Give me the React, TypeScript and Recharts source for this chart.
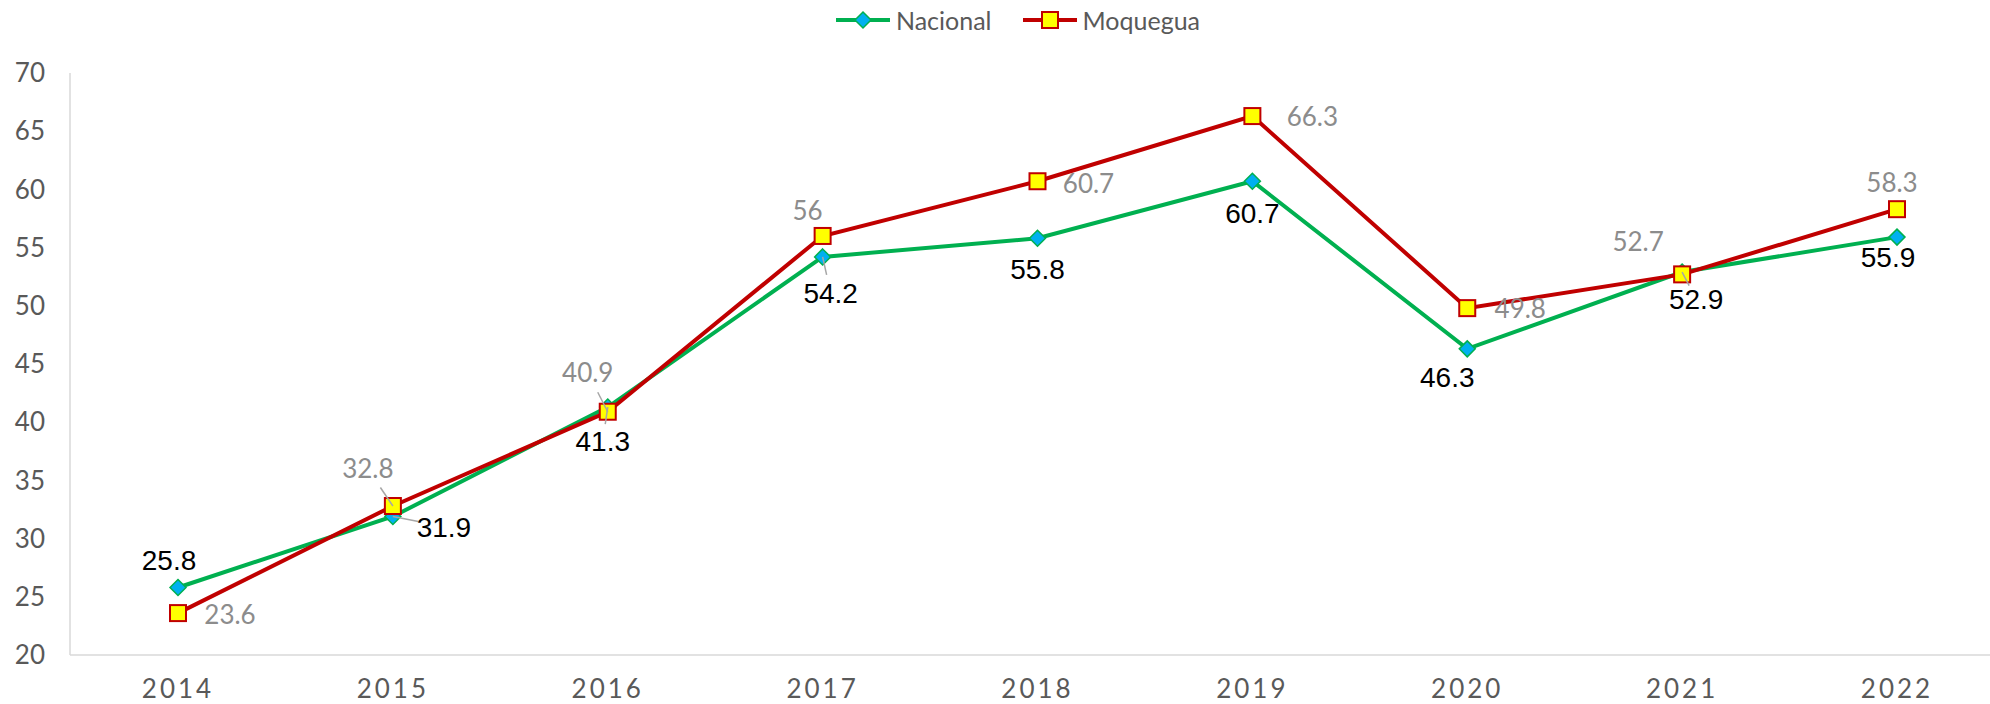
import { LineChart, Line, XAxis, YAxis, Legend, LabelList } from "recharts";

const years = ["2014", "2015", "2016", "2017", "2018", "2019", "2020", "2021", "2022"];
const nacional = [25.8, 31.9, 41.3, 54.2, 55.8, 60.7, 46.3, 52.9, 55.9];
const moquegua = [23.6, 32.8, 40.9, 56, 60.7, 66.3, 49.8, 52.7, 58.3];
const yTicks = [20, 25, 30, 35, 40, 45, 50, 55, 60, 65, 70];

const data = years.map((year, i) => ({
  year,
  nacional: nacional[i],
  moquegua: moquegua[i],
}));

// where each value label sits relative to its point (px), and which ones get a leader line
const nacionalLabelAt = [[-9, -28], [51, 10], [-5, 34], [8, 36], [0, 31], [0, 32], [-20, 28], [14, 27], [-9, 20]];
const moqueguaLabelAt = [[52, 2], [-25, -37], [-20, -39], [-15, -25], [51, 2], [60, 1], [53, 1], [-44, -33], [-5, -27]];
const nacionalLeader = [false, true, true, true, false, false, false, true, false];
const moqueguaLeader = [false, true, true, false, false, false, false, false, false];

const GREEN = "#00b050";
const CYAN = "#00b0f0";
const RED = "#c00000";
const YELLOW = "#ffff00";
const AXIS = "#d9d9d9";
const TEXT = "#595959";

function Diamond({ cx, cy, size = 8 }: { cx: number; cy: number; size?: number }) {
  return (
    <path
      d={`M${cx},${cy - size} L${cx + size},${cy} L${cx},${cy + size} L${cx - size},${cy} Z`}
      fill={CYAN}
      stroke={GREEN}
      strokeWidth={1.5}
    />
  );
}

function Square({ cx, cy, size = 8 }: { cx: number; cy: number; size?: number }) {
  return (
    <rect x={cx - size} y={cy - size} width={size * 2} height={size * 2} fill={YELLOW} stroke={RED} strokeWidth={2} />
  );
}

function makeLabel(offsets: number[][], leaders: boolean[], color: string, font: string, size: number) {
  return (props: any) => {
    const { value, index } = props;
    const x = props.x ?? props.viewBox?.x;
    const y = props.y ?? props.viewBox?.y;
    if (x == null || y == null) return null;
    const [dx, dy] = offsets[index];
    return (
      <g key={`lbl-${index}`}>
        {leaders[index] && (
          <line x1={x} y1={y} x2={x + dx * 0.5} y2={y + dy * 0.5} stroke="#a6a6a6" strokeWidth={1.5} />
        )}
        <text
          x={x + dx}
          y={y + dy}
          dy="0.36em"
          textAnchor="middle"
          fill={color}
          fontSize={size}
          fontFamily={font}
        >
          {value}
        </text>
      </g>
    );
  };
}

function LegendContent() {
  const items = [
    { name: "Nacional", color: GREEN, marker: (cx: number, cy: number) => <Diamond cx={cx} cy={cy} /> },
    { name: "Moquegua", color: RED, marker: (cx: number, cy: number) => <Square cx={cx} cy={cy} /> },
  ];
  return (
    <div
      style={{
        height: 40,
        display: "flex",
        justifyContent: "center",
        alignItems: "center",
        paddingLeft: 32,
        fontFamily: "Lato",
        fontSize: 25,
        color: TEXT,
      }}
    >
      {items.map((it, i) => (
        <div key={it.name} style={{ display: "flex", alignItems: "center", marginLeft: i ? 31 : 0 }}>
          <svg width={54} height={22}>
            <line x1={0} y1={11} x2={54} y2={11} stroke={it.color} strokeWidth={4} />
            {it.marker(27, 11)}
          </svg>
          <span style={{ marginLeft: 6 }}>{it.name}</span>
        </div>
      ))}
    </div>
  );
}

export default function App() {
  return (
    <div style={{ position: "fixed", left: 0, top: 0, width: 1990, height: 704, overflow: "hidden", background: "#fff" }}>
      <LineChart width={2010} height={704} data={data} margin={{ top: 33, right: 6, bottom: 0, left: 0 }}>
        <Legend verticalAlign="top" content={<LegendContent />} wrapperStyle={{ top: 0 }} />
        <XAxis
          dataKey="year"
          height={49}
          padding={{ left: 108, right: 107 }}
          axisLine={{ stroke: AXIS, strokeWidth: 1.5 }}
          tickLine={false}
          tickSize={0}
          tickMargin={25}
          interval={0}
          tick={{ fill: TEXT, fontSize: 26, fontFamily: "Lato", letterSpacing: 3 }}
        />
        <YAxis
          width={70}
          domain={[20, 70]}
          ticks={yTicks}
          axisLine={{ stroke: AXIS, strokeWidth: 1.5 }}
          tickLine={false}
          tickSize={0}
          tickMargin={25}
          interval={0}
          tick={{ fill: TEXT, fontSize: 26, fontFamily: "Lato" }}
        />
        <Line
          dataKey="nacional"
          name="Nacional"
          stroke={GREEN}
          strokeWidth={4}
          isAnimationActive={false}
          dot={(p: any) => <Diamond key={`d-${p.index}`} cx={p.cx} cy={p.cy} />}
          activeDot={false}
        >
          <LabelList dataKey="nacional" content={makeLabel(nacionalLabelAt, nacionalLeader, "#000000", "Liberation Sans", 28)} />
        </Line>
        <Line
          dataKey="moquegua"
          name="Moquegua"
          stroke={RED}
          strokeWidth={4}
          isAnimationActive={false}
          dot={(p: any) => <Square key={`s-${p.index}`} cx={p.cx} cy={p.cy} />}
          activeDot={false}
        >
          <LabelList dataKey="moquegua" content={makeLabel(moqueguaLabelAt, moqueguaLeader, "#8c8c8c", "Lato", 26)} />
        </Line>
      </LineChart>
    </div>
  );
}
